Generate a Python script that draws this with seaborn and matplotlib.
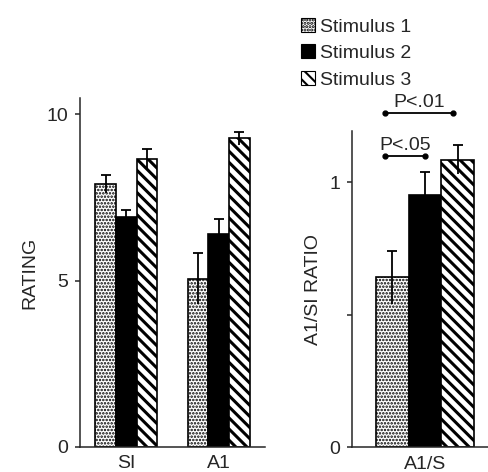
import numpy as np
import pandas as pd
import matplotlib
matplotlib.use("Agg")
import matplotlib.pyplot as plt
import matplotlib.patches as mpatches
from matplotlib.container import BarContainer
import seaborn as sns

# values
regions = ["SI", "A1"]
stimuli = ["Stimulus 1", "Stimulus 2", "Stimulus 3"]
rating_si = [7.90, 6.90, 8.65]
rating_a1 = [5.06, 6.40, 9.27]
rating_si_err = [0.28, 0.23, 0.31]
rating_a1_err = [0.77, 0.44, 0.20]

ratio_label = ["A1/S"]
ratio_mean = [0.642, 0.953, 1.086]
ratio_err = [0.100, 0.086, 0.054]

# (first bar, second bar, text)
comparisons = [(0, 1, "P<.05"), (0, 2, "P<.01")]
comparison_y = [1.098, 1.262]

fills = ["white", "black", "white"]
hatches = [".....", None, "\\\\\\"]
hatch_lw = [1.2, 1.0, 2.2]

sns.set_style("ticks")
plt.rcParams["font.family"] = ["Liberation Sans", "DejaVu Sans"]
plt.rcParams["hatch.linewidth"] = 1.5
plt.rcParams["font.size"] = 14


def bar_containers(ax):
    return [c for c in ax.containers if isinstance(c, BarContainer)]


def set_hatch(patch, h, lw):
    if h:
        patch.set_hatch(h)
        if hasattr(patch, "set_hatch_linewidth"):
            patch.set_hatch_linewidth(lw)


def style_bars(ax):
    """Hatch each hue container like the original print figure"""
    for cont, h, lw in zip(bar_containers(ax), hatches, hatch_lw):
        for bar in cont:
            set_hatch(bar, h, lw)
            bar.set_edgecolor("black")


def add_errors(ax, errs):
    """Symmetric error bars with a cap on the top only"""
    for cont, err in zip(bar_containers(ax), errs):
        xs = [b.get_x() + b.get_width() / 2 for b in cont]
        ys = [b.get_height() for b in cont]
        ax.errorbar(xs, ys, yerr=err, fmt="none", ecolor="black",
                    elinewidth=1.3, capsize=0, zorder=5)
        ax.plot(xs, np.array(ys) + np.array(err), ls="none", marker="_",
                markersize=6.5, mew=1.3, color="black", zorder=5)


def clean_axis(ax):
    sns.despine(ax=ax)
    for s in ["left", "bottom"]:
        ax.spines[s].set_linewidth(1.1)
    ax.tick_params(axis="y", length=3.6, width=1.1, labelsize=14, pad=5)
    ax.tick_params(axis="x", length=0, labelsize=14, pad=6)
    ax.set_xlabel("")


fig = plt.figure(figsize=(4.88, 4.72), dpi=100)
ax1 = fig.add_axes([0.164, 0.053, 0.379, 0.739])
ax2 = fig.add_axes([0.721, 0.052, 0.279, 0.671])

# left panel: ratings
df_rating = pd.DataFrame({
    "region": np.repeat(regions, len(stimuli)),
    "stimulus": stimuli * len(regions),
    "rating": rating_si + rating_a1,
})
sns.barplot(data=df_rating, x="region", y="rating", hue="stimulus",
            hue_order=stimuli, palette=fills, width=0.67, errorbar=None,
            edgecolor="black", linewidth=1.2, legend=False, ax=ax1)
style_bars(ax1)
add_errors(ax1, [[rating_si_err[i], rating_a1_err[i]] for i in range(3)])
clean_axis(ax1)
ax1.set_xlim(-0.5, 1.5)
ax1.set_ylim(0, 10.48)
ax1.set_yticks([0, 5, 10])
ax1.set_ylabel("RATING", fontsize=14, labelpad=6)

# right panel: A1/SI ratio
df_ratio = pd.DataFrame({
    "measure": ratio_label * len(stimuli),
    "stimulus": stimuli,
    "ratio": ratio_mean,
})
sns.barplot(data=df_ratio, x="measure", y="ratio", hue="stimulus",
            hue_order=stimuli, palette=fills, width=0.67, errorbar=None,
            edgecolor="black", linewidth=1.2, legend=False, ax=ax2)
style_bars(ax2)
add_errors(ax2, [[e] for e in ratio_err])
clean_axis(ax2)
ax2.set_xlim(-0.5, 0.432)
ax2.set_ylim(0, 1.195)
ax2.set_yticks([0, 0.5, 1])
ax2.set_yticklabels(["0", "", "1"])
ax2.set_ylabel("A1/SI RATIO", fontsize=14, labelpad=5)

# significance brackets
bars2 = [c[0] for c in bar_containers(ax2)]
centers = [b.get_x() + b.get_width() / 2 for b in bars2]
w = bars2[0].get_width()
for (i, j, txt), y in zip(comparisons, comparison_y):
    x0 = bars2[i].get_x() + 0.28 * w
    x1 = centers[j] - (0.15 * w if j == 2 else 0)
    ax2.plot([x0, x1], [y, y], color="black", lw=1.3, marker="o",
             markersize=3.5, clip_on=False)
    ax2.text((x0 + x1) / 2, y + 0.04, txt, ha="center", va="center",
             fontsize=14, clip_on=False)

# legend
handles = []
for f, h, lw in zip(fills, hatches, hatch_lw):
    p = mpatches.Patch(facecolor=f, edgecolor="black", lw=0.8)
    set_hatch(p, h, lw)
    handles.append(p)
fig.legend(handles, stimuli, loc="upper left",
           bbox_to_anchor=(301 / 488, 1 - 18 / 472), frameon=False,
           fontsize=14, handlelength=0.72, handleheight=0.72,
           handletextpad=0.25, labelspacing=0.45, borderpad=0,
           borderaxespad=0)

fig.savefig("out.png", dpi=100)
